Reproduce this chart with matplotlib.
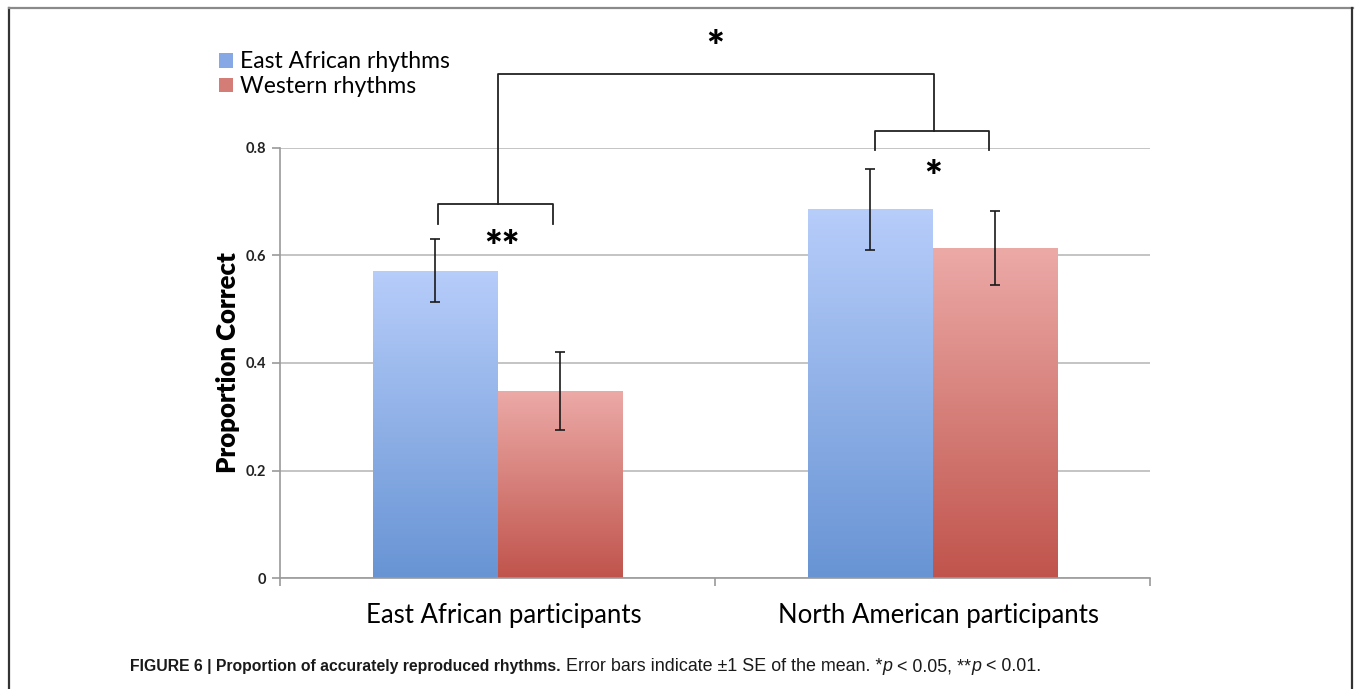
import matplotlib

matplotlib.use("Agg")
import matplotlib.pyplot as plt
import matplotlib.transforms as mtransforms
import numpy as np
from matplotlib.lines import Line2D
from matplotlib.patches import Patch
from matplotlib.colors import LinearSegmentedColormap

plt.rcParams["font.family"] = ["Lato", "DejaVu Sans"]

groups = ["East African participants", "North American participants"]
series = ["East African rhythms", "Western rhythms"]
means = {"East African rhythms": [0.572, 0.686],
         "Western rhythms": [0.348, 0.614]}
ses = {"East African rhythms": [0.058, 0.075],
       "Western rhythms": [0.072, 0.069]}
yticks = [0, 0.2, 0.4, 0.6, 0.8]
ytick_labels = ["0", "0.2", "0.4", "0.6", "0.8"]

# (top colour, bottom colour) for the gradient fills
grad = {"East African rhythms": ("#b7cdfa", "#6894d4"),
        "Western rhythms": ("#ecaaa7", "#c0544c")}
legend_col = {"East African rhythms": "#86a8e4", "Western rhythms": "#d47d77"}

W = 0.287
x = np.arange(len(groups))

fig = plt.figure(figsize=(13.55, 6.89), dpi=100)
ax = fig.add_axes([280 / 1355, 1 - 578 / 689, 870 / 1355, 430 / 689])

for i, s in enumerate(series):
    offs = -W / 2 if i == 0 else W / 2
    bars = ax.bar(x + offs, means[s], width=W, color="none", edgecolor="none", zorder=2)
    cmap = LinearSegmentedColormap.from_list(s, [grad[s][1], grad[s][0]])
    for b in bars:
        x0, h = b.get_x(), b.get_height()
        g = np.linspace(0, 1, 256).reshape(-1, 1)
        im = ax.imshow(g, cmap=cmap, origin="lower", aspect="auto",
                       extent=[x0, x0 + W, 0, h], zorder=2)
        im.set_clip_path(b)
    ax.errorbar(x + offs, means[s], yerr=ses[s], fmt="none", ecolor="#1a1a1a",
                elinewidth=1.2, capsize=3.5, capthick=1.2, zorder=4)

ax.set_xlim(-0.5, 1.5)
ax.set_ylim(0, 0.8)
ax.set_yticks(yticks)
ax.set_yticklabels(ytick_labels, fontsize=10.5, fontweight="bold", color="#222222")
ax.set_xticks([-0.5, 0.5, 1.5])
ax.set_xticklabels([])
ax.set_xticks(x, minor=True)
ax.set_xticklabels(groups, minor=True, fontsize=18.5)
ax.tick_params(axis="x", which="minor", length=0, pad=18)
ax.tick_params(axis="x", which="major", length=6, color="#9a9a9a", width=1.2)
ax.tick_params(axis="y", length=6, color="#9a9a9a", width=1.2, pad=4)
shift = mtransforms.ScaledTranslation(6 / 100, 0, fig.dpi_scale_trans)
for lab in ax.get_xticklabels(minor=True):
    lab.set_transform(lab.get_transform() + shift)
ax.yaxis.grid(True, color="#b4b4b4", linewidth=1.1, zorder=0)
ax.set_axisbelow(True)
for sp in ["top", "right"]:
    ax.spines[sp].set_visible(False)
for sp in ["left", "bottom"]:
    ax.spines[sp].set_color("#9a9a9a")
    ax.spines[sp].set_linewidth(1.2)
ax.set_ylabel("Proportion Correct", fontsize=18.5, fontweight="heavy", labelpad=4)

# significance brackets
hw = 0.132
lk = dict(color="#222222", lw=1.3, clip_on=False, zorder=5)
ax.plot([-0.005 - hw, -0.005 - hw, -0.005 + hw, -0.005 + hw],
        [0.659, 0.696, 0.696, 0.659], **lk)
ax.plot([0.999 - hw, 0.999 - hw, 0.999 + hw, 0.999 + hw],
        [0.796, 0.832, 0.832, 0.796], **lk)
ax.plot([0.0, 0.0, 1.004, 1.004], [0.696, 0.938, 0.938, 0.832], **lk)
ax.text(0.01, 0.612, "**", ha="center", va="center", fontsize=30, fontweight="heavy")
ax.text(1.002, 0.742, "*", ha="center", va="center", fontsize=30, fontweight="heavy")
ax.text(0.5, 0.985, "*", ha="center", va="center", fontsize=30, fontweight="heavy",
        clip_on=False)

handles = [Patch(facecolor=legend_col[s], edgecolor="none") for s in series]
fig.legend(handles, series, loc="upper left", bbox_to_anchor=(208 / 1355, 1 - 40 / 689),
           frameon=False, fontsize=16.5, handlelength=0.6, handleheight=0.6,
           handletextpad=0.3, labelspacing=0.15, borderpad=0)

# frame around the figure panel
fl = dict(transform=fig.transFigure, lw=1.6)
fig.add_artist(Line2D([9 / 1355, 9 / 1355], [0, 1 - 8 / 689], color="#333333", **fl))
fig.add_artist(Line2D([9 / 1355, 1353 / 1355], [1 - 8 / 689, 1 - 8 / 689], color="#8a8a8a", **fl))
fig.add_artist(Line2D([1352 / 1355, 1352 / 1355], [0, 1 - 8 / 689], color="#333333", **fl))

# caption, written in pieces so the styles can change along the line
cap = [("FIGURE 6 | Proportion of accurately reproduced rhythms.", "bold", "normal", 11.3),
       (" Error bars indicate ±1 SE of the mean. *", "normal", "normal", 12.9),
       ("p", "normal", "italic", 12.9),
       (" < 0.05, **", "normal", "normal", 12.9),
       ("p", "normal", "italic", 12.9),
       (" < 0.01.", "normal", "normal", 12.9)]
renderer = fig.canvas.get_renderer()
cx = 130 / 1355
for txt, wt, st, fs in cap:
    t = fig.text(cx, 1 - 671 / 689, txt, fontsize=fs, fontweight=wt, fontstyle=st,
                 va="baseline", ha="left", color="#1a1a1a",
                 family=["Liberation Sans", "DejaVu Sans"])
    bb = t.get_window_extent(renderer=renderer)
    cx += bb.width / fig.bbox.width

fig.savefig("out.png", dpi=100)
